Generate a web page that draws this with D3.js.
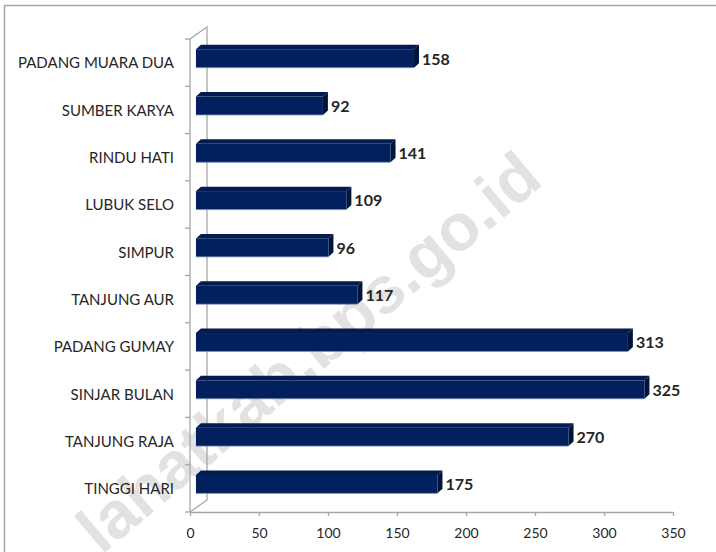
<!DOCTYPE html>
<html>
<head>
<meta charset="utf-8">
<script src="https://cdn.jsdelivr.net/npm/d3@7"></script>
<style>
  body { margin: 0; background: #fff; }
  svg text { font-family: Lato, "Open Sans", sans-serif; }
</style>
</head>
<body>
<div class="chart"></div>
<script>
var svgWidth = 716;
var svgHeight = 552;

// data, top to bottom as in the picture
var categories = ["PADANG MUARA DUA", "SUMBER KARYA", "RINDU HATI", "LUBUK SELO", "SIMPUR",
  "TANJUNG AUR", "PADANG GUMAY", "SINJAR BULAN", "TANJUNG RAJA", "TINGGI HARI"];
var values = [158, 92, 141, 109, 96, 117, 313, 325, 270, 175];
var xTicks = [0, 50, 100, 150, 200, 250, 300, 350];
var watermark = "lahatkab.bps.go.id";

// plot geometry (front plane of the 3D box)
var plot = { left: 190, right: 673, top: 39, bottom: 512 };
var depth = { dx: 17, dy: -12 };      // back wall offset
var barShift = 0.35;                  // bars sit a bit into the box
var barDepth = { dx: 5, dy: -4.5 };   // thickness of each bar

var svg = d3.select(".chart")
  .append("svg")
  .attr("width", svgWidth)
  .attr("height", svgHeight);

// outer frame
svg.append("rect")
  .attr("x", 4.5).attr("y", 5.5)
  .attr("width", 730).attr("height", 570)
  .attr("fill", "none")
  .attr("stroke", "#a6a6a6")
  .attr("stroke-width", 1.5);

// watermark behind everything
svg.append("text")
  .attr("transform", "translate(312,356) rotate(-40)")
  .attr("text-anchor", "middle")
  .attr("dominant-baseline", "middle")
  .style("font-family", "'Liberation Sans', Arial, sans-serif")
  .style("font-weight", "bold")
  .style("font-size", "66px")
  .attr("fill", "#e2e2e2")
  .text(watermark);

var x = d3.scaleLinear()
  .domain([0, 350])
  .range([plot.left, plot.right]);

var y = d3.scaleBand()
  .domain(categories)
  .range([plot.top, plot.bottom]);

var axisColor = "#a6a6a6";
var axisGroup = svg.append("g")
  .attr("stroke", axisColor)
  .attr("stroke-width", 1.3)
  .attr("fill", "none");

// back wall edge and the two slanted connectors
axisGroup.append("path")
  .attr("d", d3.line()([
    [plot.left, plot.top],
    [plot.left + depth.dx, plot.top + depth.dy],
    [plot.left + depth.dx, plot.bottom + depth.dy],
    [plot.left, plot.bottom]
  ]));

// front category axis with separator ticks
axisGroup.append("line")
  .attr("x1", plot.left).attr("x2", plot.left)
  .attr("y1", plot.top).attr("y2", plot.bottom);

var sepTicks = categories.map(function(c) { return y(c); }).concat([plot.bottom]);
axisGroup.selectAll(".sep")
  .data(sepTicks)
  .enter()
  .append("line")
  .attr("x1", plot.left - 5).attr("x2", plot.left)
  .attr("y1", d => d).attr("y2", d => d);

// value axis along the front floor edge
var bottomAxis = d3.axisBottom(x)
  .tickValues(xTicks)
  .tickSize(4)
  .tickPadding(12)
  .tickSizeOuter(0);

var xAxis = svg.append("g")
  .attr("transform", `translate(0, ${plot.bottom})`)
  .call(bottomAxis);

xAxis.select(".domain")
  .attr("stroke", axisColor)
  .attr("stroke-width", 1.3);
xAxis.selectAll(".tick line")
  .attr("stroke", axisColor)
  .attr("stroke-width", 1.3);
xAxis.selectAll(".tick text")
  .attr("fill", "#262626")
  .style("font-size", "14px")
  .style("font-family", "Lato, sans-serif");

// category labels
svg.append("g")
  .selectAll("text")
  .data(categories)
  .enter()
  .append("text")
  .attr("x", 174)
  .attr("y", d => y(d) + y.bandwidth() / 2 + 2)
  .attr("text-anchor", "end")
  .attr("dominant-baseline", "middle")
  .attr("fill", "#262626")
  .style("font-size", "15px")
  .text(d => d);

// 3D bars
var barH = y.bandwidth() * 0.39;
var sx = depth.dx * barShift;
var sy = depth.dy * barShift;

var bars = svg.append("g")
  .selectAll("g")
  .data(categories.map(function(c, i) { return { name: c, value: values[i] }; }))
  .enter()
  .append("g");

function barBox(d) {
  var x0 = x(0) + sx;
  var x1 = x(d.value) + sx;
  var y0 = y(d.name) + y.bandwidth() / 2 + sy - barH / 2;
  return { x0: x0, x1: x1, y0: y0, y1: y0 + barH };
}

// top face
bars.append("path")
  .attr("fill", "#021b50")
  .attr("d", function(d) {
    var b = barBox(d);
    return d3.line()([[b.x0, b.y0], [b.x0 + barDepth.dx, b.y0 + barDepth.dy],
      [b.x1 + barDepth.dx, b.y0 + barDepth.dy], [b.x1, b.y0]]) + "Z";
  });

// right side face
bars.append("path")
  .attr("fill", "#01143c")
  .attr("d", function(d) {
    var b = barBox(d);
    return d3.line()([[b.x1, b.y0], [b.x1 + barDepth.dx, b.y0 + barDepth.dy],
      [b.x1 + barDepth.dx, b.y1 + barDepth.dy], [b.x1, b.y1]]) + "Z";
  });

// front face
bars.append("rect")
  .attr("fill", "#02205e")
  .attr("x", d => barBox(d).x0)
  .attr("y", d => barBox(d).y0)
  .attr("width", d => barBox(d).x1 - barBox(d).x0)
  .attr("height", barH);

// faint lower edge highlight
bars.append("line")
  .attr("stroke", "#7f8fb0")
  .attr("stroke-width", 0.8)
  .attr("x1", d => barBox(d).x0)
  .attr("x2", d => barBox(d).x1)
  .attr("y1", d => barBox(d).y1)
  .attr("y2", d => barBox(d).y1);

// value labels
bars.append("text")
  .attr("x", d => barBox(d).x1 + barDepth.dx + 3)
  .attr("y", d => barBox(d).y0 + barH / 2 + 2)
  .attr("dominant-baseline", "middle")
  .attr("fill", "#262626")
  .style("font-size", "16px")
  .style("font-weight", "bold")
  .text(d => d.value);
</script>
</body>
</html>
